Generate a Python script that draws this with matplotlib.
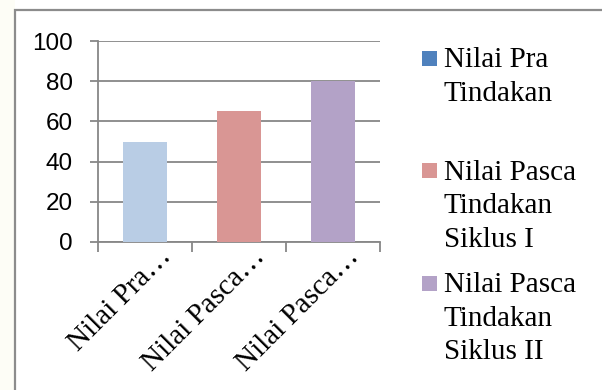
import matplotlib
matplotlib.use("Agg")
import matplotlib.pyplot as plt
from matplotlib.patches import Rectangle
import matplotlib.transforms as mtransforms

# Data
categories = ["Nilai Pra Tindakan", "Nilai Pasca Tindakan Siklus I", "Nilai Pasca Tindakan Siklus II"]
tick_labels = ["Nilai Pra…", "Nilai Pasca…", "Nilai Pasca…"]
values = [50, 65, 80]
bar_colors = ["#B9CDE5", "#D99694", "#B3A2C7"]
legend_colors = ["#4F81BD", "#D99694", "#B3A2C7"]
legend_labels = ["Nilai Pra\nTindakan", "Nilai Pasca\nTindakan\nSiklus I", "Nilai Pasca\nTindakan\nSiklus II"]
y_ticks = [0, 20, 40, 60, 80, 100]

W, H = 602, 390
fig = plt.figure(figsize=(W / 100, H / 100), dpi=100)
fig.patch.set_facecolor("white")

# cream margin on the left and the chart frame
fig.patches.append(Rectangle((0, 0), 15 / W, 1, transform=fig.transFigure,
                             facecolor="#FDFDF6", edgecolor="none", zorder=-2))
fig.patches.append(Rectangle((15 / W, -0.1), 1.0, (H - 10) / H + 0.1, transform=fig.transFigure,
                             facecolor="none", edgecolor="#8C8C8C", linewidth=1.6, zorder=-1))

left, right, top, bottom = 98, 380, 41, 242
ax = fig.add_axes([left / W, 1 - bottom / H, (right - left) / W, (bottom - top) / H])
ax.set_facecolor("none")
ax.set_zorder(2)

x = list(range(len(values)))
ax.bar(x, values, width=0.47, color=bar_colors, zorder=3)

ax.set_xlim(-0.5, len(values) - 0.5)
ax.set_ylim(0, 100)
ax.set_yticks(y_ticks)
ax.set_yticklabels([str(v) for v in y_ticks], family="Liberation Sans", fontsize=17.5)
ax.yaxis.grid(True, color="#878787", linewidth=1.3, zorder=1)
ax.set_axisbelow(True)
ax.tick_params(axis="y", length=6, width=1.3, color="#878787", pad=12)

for s in ["top", "right"]:
    ax.spines[s].set_visible(False)
for s in ["left", "bottom"]:
    ax.spines[s].set_color("#878787")
    ax.spines[s].set_linewidth(1.3)

# category boundaries carry tick marks, labels sit at the centres
ax.set_xticks([i - 0.5 for i in range(len(values) + 1)], minor=True)
ax.set_xticks(x)
ax.tick_params(axis="x", which="minor", length=7, width=1.3, color="#878787")
ax.tick_params(axis="x", which="major", length=0)
ax.set_xticklabels([])

offset = mtransforms.ScaledTranslation(27 / 100, -16 / 100, fig.dpi_scale_trans)
for xi, lab in zip(x, tick_labels):
    ax.text(xi, 0, lab, transform=ax.get_xaxis_transform() + offset,
            rotation=45, rotation_mode="anchor", ha="right", va="baseline",
            family="Liberation Serif", fontsize=21, color="black", clip_on=False)

# legend at the right, one slot per series
for i, (lab, col) in enumerate(zip(legend_labels, legend_colors)):
    top_px = 51 + i * 112.5
    fig.patches.append(Rectangle((422 / W, 1 - (top_px + 15) / H), 15 / W, 15 / H,
                                 transform=fig.transFigure, facecolor=col, edgecolor="none"))
    fig.text(444 / W, 1 - (top_px - 4) / H, lab, family="Liberation Serif", fontsize=21,
             ha="left", va="top", linespacing=1.38, color="black")

fig.savefig("out.png", dpi=100)
